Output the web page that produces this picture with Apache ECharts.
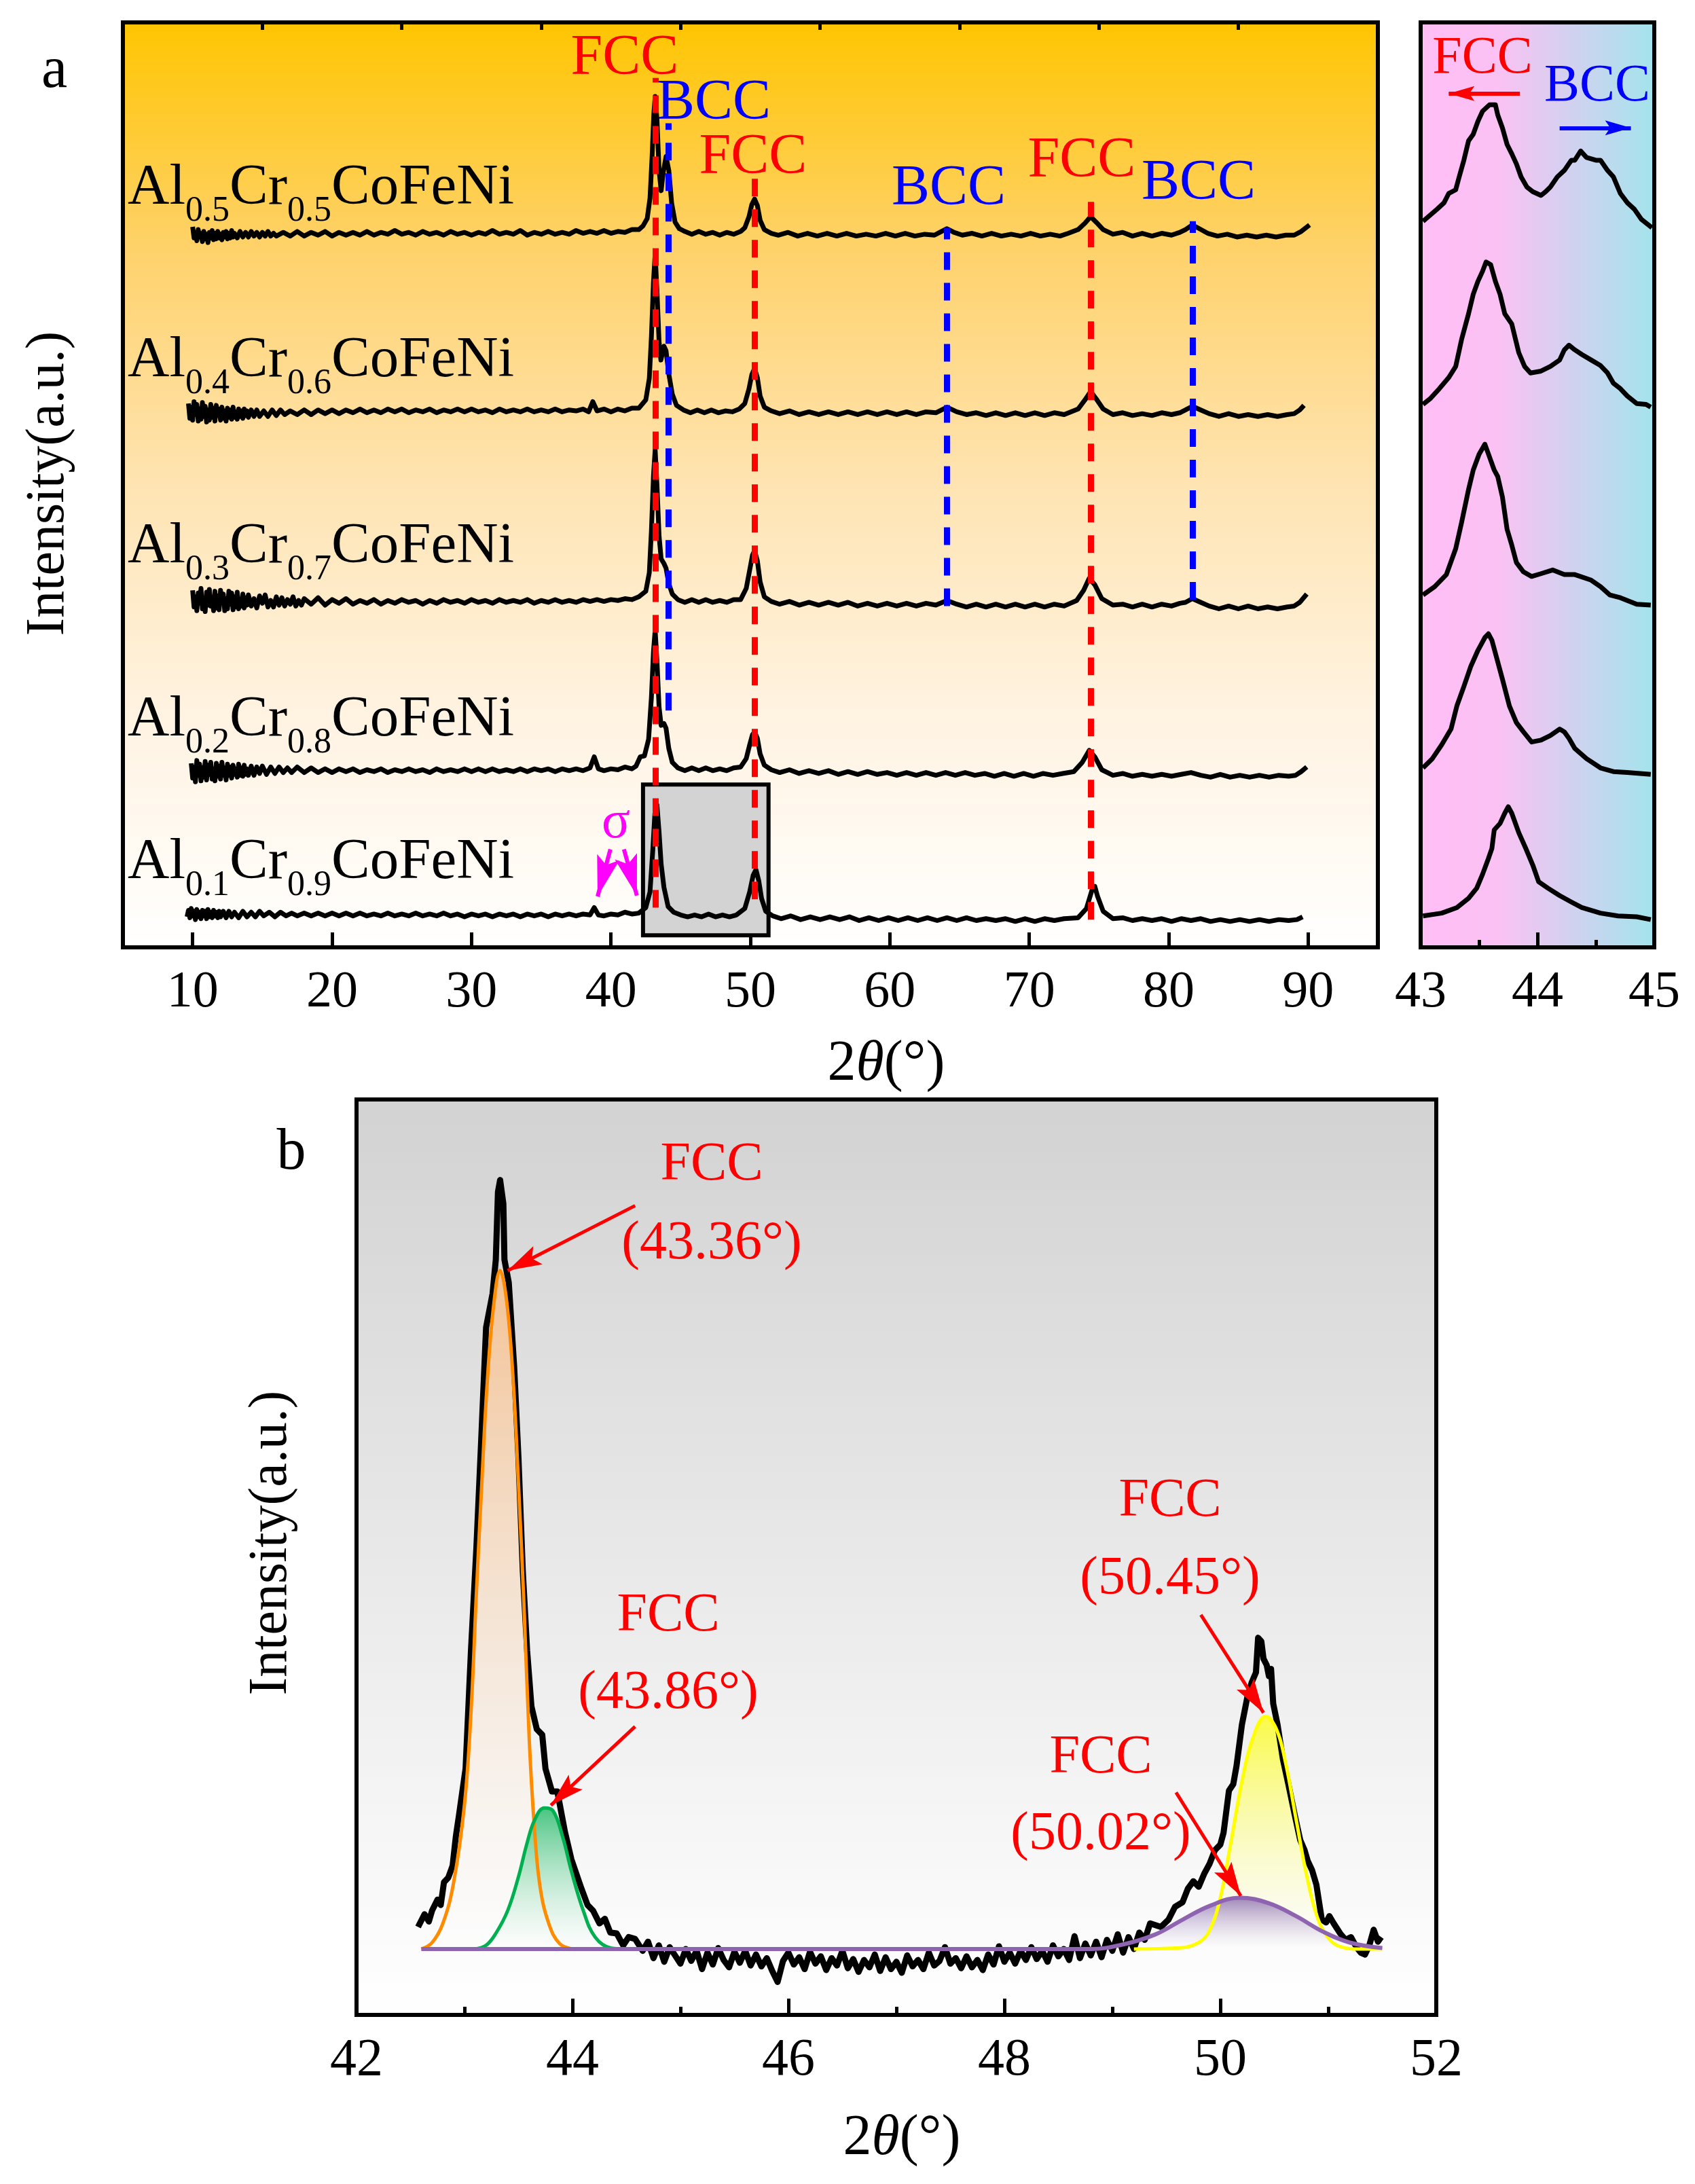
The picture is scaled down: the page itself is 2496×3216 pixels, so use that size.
<!DOCTYPE html>
<html>
<head>
<meta charset="utf-8">
<title>XRD Al-Cr-CoFeNi</title>
<script src="https://cdn.jsdelivr.net/npm/echarts@6/dist/echarts.min.js"></script>
<style>
html, body { margin: 0; padding: 0; background: #fff; }
#chart { width: 2496px; height: 3216px; }
</style>
</head>
<body>
<div id="chart"></div>
<script>
// tick labels
var aTicks = [10, 20, 30, 40, 50, 60, 70, 80, 90];
var aMinor = [15, 25, 35, 45, 55, 65, 75, 85];

// sample names (main text / subscript pieces)
var samples = [
  ['Al', '0.5', 'Cr', '0.5', 'CoFeNi'],
  ['Al', '0.4', 'Cr', '0.6', 'CoFeNi'],
  ['Al', '0.3', 'Cr', '0.7', 'CoFeNi'],
  ['Al', '0.2', 'Cr', '0.8', 'CoFeNi'],
  ['Al', '0.1', 'Cr', '0.9', 'CoFeNi']
];

// panel a : full patterns, 2theta / offset intensity
var A5 = [[10.0,77.9],[10.1,76.7],[10.2,77.3],[10.3,76.4],[10.4,77.6],[10.5,76.8],[10.6,77.2],[10.7,76.3],[10.8,77.4],[10.9,76.6],[11.0,77.1],[11.1,76.2],[11.2,77.3],[11.3,76.7],[11.4,77.5],[11.5,76.5],[11.6,77.2],[11.7,76.6],[11.8,77.4],[11.9,76.7],[12.0,77.1],[12.1,76.5],[12.2,77.3],[12.3,76.8],[12.4,77.4],[12.5,76.6],[12.6,77.2],[12.7,76.7],[12.8,77.5],[12.9,76.8],[13.0,77.2],[13.2,76.7],[13.4,77.4],[13.6,76.8],[13.8,77.3],[14.0,76.8],[14.2,77.4],[14.4,76.9],[14.6,77.3],[14.8,76.8],[15.0,77.3],[15.2,76.9],[15.4,77.4],[15.6,76.9],[15.8,77.2],[16.0,76.9],[16.5,77.3],[17.0,76.9],[17.5,77.4],[18.0,76.9],[18.5,77.3],[19.0,77.0],[19.5,77.4],[20.0,76.9],[20.5,77.3],[21,77.0],[21.5,77.3],[22,77.0],[22.5,77.4],[23,77.0],[23.5,77.3],[24,77.1],[24.5,77.5],[25,77.1],[25.5,77.3],[26,77.0],[26.5,77.4],[27,77.1],[27.5,77.3],[28,77.0],[28.5,77.4],[29,77.1],[29.5,77.3],[30,77.0],[30.5,77.3],[31,77.1],[31.5,77.5],[32,77.1],[32.5,77.3],[33,77.1],[33.5,77.5],[34,77.0],[34.5,77.3],[35,77.1],[35.5,77.4],[36,77.1],[36.5,77.3],[37,77.1],[37.5,77.5],[38,77.2],[38.5,77.4],[39,77.2],[39.5,77.5],[40,77.2],[40.5,77.4],[41,77.3],[41.5,77.6],[42.0,77.6],
  [42.3,78.0],[42.6,78.8],[42.8,81.0],[42.95,85.5],[43.07,90.0],[43.17,92.0],[43.3,89.5],[43.45,84.0],[43.6,81.8],[43.75,83.8],[43.95,85.5],[44.15,84.0],[44.35,80.5],[44.6,78.4],[44.9,77.7],[45.3,77.4],[45.8,77.1],[46.3,77.4],[46.8,77.1],[47.3,77.3],[47.8,77.0],[48.3,77.3],[48.8,77.1],[49.3,77.4],
  [49.6,77.8],[49.9,79.0],[50.1,80.3],[50.3,80.9],[50.5,80.2],[50.7,78.6],[51.0,77.6],[51.5,77.2],[52,77.0],[52.7,77.3],[53.4,76.9],[54.1,77.2],[54.8,76.9],[55.5,77.2],[56.2,76.9],[56.9,77.2],[57.6,76.9],[58.3,77.1],[59,76.9],[59.7,77.2],[60.4,76.9],[61.1,77.2],[61.8,76.9],[62.5,77.1],[63.2,77.0],[63.7,77.4],[64.1,77.7],[64.6,77.3],[65.2,77.0],[65.9,77.2],[66.6,76.9],[67.3,77.2],[68,76.9],[68.7,77.1],[69.4,76.9],[70.1,77.2],[70.8,76.9],[71.5,77.1],[72.2,76.9],[72.8,77.2],
  [73.5,77.6],[74.0,78.3],[74.4,79.0],[74.8,78.4],[75.3,77.6],[76,77.1],[76.7,77.3],[77.4,76.9],[78.1,77.2],[78.8,76.9],[79.5,77.2],[80.2,77.0],[80.8,77.3],[81.2,77.6],[81.7,78.1],[82.2,77.7],[82.8,77.2],[83.5,76.9],[84.2,77.1],[84.9,76.8],[85.6,77.0],[86.3,76.8],[87,77.0],[87.7,76.8],[88.4,77.0],[89.0,77.0],[89.5,77.4],[90.1,78.1]];

var A4 = [[9.7,58.8],[9.8,57.2],[9.9,58.4],[10.0,57.0],[10.1,59.0],[10.2,57.6],[10.3,58.7],[10.4,56.9],[10.5,58.2],[10.6,57.1],[10.7,58.9],[10.8,57.4],[10.9,58.5],[11.0,56.8],[11.1,58.1],[11.2,57.0],[11.3,58.7],[11.4,57.3],[11.5,58.3],[11.6,56.9],[11.7,58.6],[11.8,57.5],[11.9,58.2],[12.0,57.0],[12.1,58.4],[12.2,57.2],[12.3,58.0],[12.4,56.9],[12.5,58.3],[12.6,57.3],[12.7,58.1],[12.8,57.1],[12.9,58.4],[13.0,57.3],[13.1,57.9],[13.2,57.1],[13.3,58.2],[13.4,57.4],[13.5,58.0],[13.6,57.2],[13.7,58.2],[13.8,57.5],[13.9,58.0],[14.0,57.3],[14.2,58.1],[14.4,57.4],[14.6,58.1],[14.8,57.4],[15.1,58.0],[15.4,57.4],[15.7,58.1],[16.0,57.5],[16.3,58.1],[16.6,57.6],[17.0,58.0],[17.5,57.6],[18.0,58.1],[18.5,57.6],[19.0,58.1],[19.5,57.7],[20,58.1],[20.5,57.7],[21,58.1],[21.5,57.8],[22,58.2],[22.5,57.8],[23,58.1],[23.5,57.8],[24,58.2],[24.5,57.9],[25,58.2],[25.5,57.8],[26,58.1],[26.5,57.9],[27,58.2],[27.5,57.8],[28,58.1],[28.5,57.9],[29,58.2],[29.5,57.9],[30,58.2],[30.5,57.9],[31,58.1],[31.5,57.8],[32,58.2],[32.5,57.9],[33,58.1],[33.5,57.9],[34,58.2],[34.5,57.9],[35,58.1],[35.5,57.9],[36,58.2],[36.5,57.9],[37,58.1],[37.5,58.0],[38,58.2],[38.4,57.9],[38.7,59.0],[39.0,58.0],[39.5,58.2],[40,57.9],[40.5,58.2],[41,58.0],[41.5,58.3],[42,58.3],
  [42.5,59.2],[42.75,61.5],[42.9,66],[43.05,72],[43.17,75.0],[43.3,71],[43.45,65.5],[43.58,63.5],[43.8,65.0],[43.95,64.5],[44.15,62.0],[44.4,59.8],[44.7,58.6],[45.2,58.1],[45.7,57.8],[46.2,58.1],[46.7,57.8],[47.2,58.1],[47.7,57.8],[48.2,58.0],[48.7,57.9],[49.2,58.2],
  [49.6,58.8],[49.9,60.4],[50.1,61.9],[50.3,62.6],[50.5,61.6],[50.7,59.6],[51.0,58.4],[51.5,58.0],[52.1,57.7],[52.8,58.0],[53.5,57.6],[54.2,57.9],[54.9,57.6],[55.6,57.9],[56.3,57.6],[57,57.9],[57.7,57.6],[58.4,57.9],[59.1,57.6],[59.8,57.9],[60.5,57.6],[61.2,57.9],[61.9,57.6],[62.6,57.9],[63.3,57.8],[64.1,58.4],[64.8,57.9],[65.5,57.6],[66.2,57.8],[66.9,57.5],[67.6,57.8],[68.3,57.5],[69,57.8],[69.7,57.5],[70.4,57.8],[71.1,57.5],[71.8,57.8],[72.5,57.6],
  [73.5,58.2],[74.0,59.2],[74.4,60.1],[74.8,59.3],[75.3,58.2],[76,57.6],[76.7,57.8],[77.4,57.5],[78.1,57.7],[78.8,57.5],[79.5,57.8],[80.2,57.6],[80.8,57.8],[81.2,58.1],[81.7,58.5],[82.3,58.1],[82.9,57.7],[83.6,57.4],[84.3,57.7],[85,57.4],[85.7,57.6],[86.4,57.4],[87.1,57.6],[87.8,57.4],[88.5,57.6],[89.0,57.7],[89.4,58.1],[89.7,58.6]];

var A3 = [[10.0,38.6],[10.1,36.8],[10.2,37.9],[10.3,36.4],[10.4,38.3],[10.5,37.2],[10.6,38.8],[10.7,36.6],[10.8,37.6],[10.9,36.3],[11.0,38.4],[11.1,37.0],[11.2,38.7],[11.3,36.9],[11.4,37.8],[11.5,36.4],[11.6,38.5],[11.7,36.7],[11.8,38.0],[11.9,36.5],[12.0,38.6],[12.1,37.3],[12.2,38.2],[12.3,36.4],[12.4,37.7],[12.5,36.6],[12.6,38.5],[12.7,37.1],[12.8,38.3],[12.9,36.5],[13.0,37.9],[13.1,36.8],[13.2,38.4],[13.3,36.6],[13.4,37.5],[13.5,36.9],[13.6,38.2],[13.7,36.7],[13.8,37.8],[13.9,37.0],[14.0,38.1],[14.2,36.9],[14.4,37.7],[14.6,36.7],[14.8,38.0],[15.0,37.2],[15.2,38.1],[15.4,36.8],[15.6,37.5],[15.8,36.8],[16.0,37.9],[16.2,37.0],[16.4,37.8],[16.6,36.9],[16.8,37.6],[17.0,37.1],[17.2,37.9],[17.4,36.9],[17.6,37.5],[17.8,37.0],[18.0,37.7],[18.5,37.1],[19.0,37.8],[19.5,37.0],[20.0,37.6],[20.5,37.2],[21.0,37.7],[21.5,37.1],[22.0,37.5],[22.5,37.2],[23.0,37.6],[23.5,37.1],[24.0,37.5],[24.5,37.2],[25.0,37.6],[25.5,37.3],[26,37.5],[26.5,37.1],[27,37.5],[27.5,37.2],[28,37.6],[28.5,37.3],[29,37.5],[29.5,37.2],[30,37.6],[30.5,37.3],[31,37.5],[31.5,37.2],[32,37.6],[32.5,37.3],[33,37.5],[33.5,37.3],[34,37.6],[34.5,37.2],[35,37.5],[35.5,37.3],[36,37.6],[36.5,37.3],[37,37.5],[37.5,37.3],[38,37.6],[38.5,37.4],[39,37.6],[39.5,37.4],[40,37.6],[40.5,37.5],[41,37.7],[41.5,37.6],[42,37.9],
  [42.5,38.5],[42.75,40.5],[42.9,45],[43.05,51],[43.17,53.8],[43.3,50],[43.45,44.5],[43.6,42.0],[43.8,41.5],[43.95,41.0],[44.15,39.3],[44.4,38.2],[44.8,37.6],[45.3,37.3],[45.8,37.6],[46.3,37.3],[46.8,37.6],[47.3,37.3],[47.8,37.5],[48.3,37.3],[48.8,37.6],[49.3,37.6],
  [49.7,38.8],[49.95,40.8],[50.15,42.4],[50.3,42.9],[50.5,41.8],[50.7,39.5],[51.0,37.9],[51.5,37.4],[52.1,37.1],[52.8,37.4],[53.5,37.0],[54.2,37.3],[54.9,37.0],[55.6,37.3],[56.3,37.0],[57,37.3],[57.7,36.9],[58.4,37.2],[59.1,36.9],[59.8,37.2],[60.5,36.9],[61.2,37.2],[61.9,36.9],[62.6,37.2],[63.3,37.0],[64.1,37.5],[64.8,37.1],[65.5,36.8],[66.2,37.1],[66.9,36.8],[67.6,37.1],[68.3,36.8],[69,37.1],[69.7,36.8],[70.4,37.1],[71.1,36.8],[71.8,37.1],[72.5,36.9],
  [73.4,37.5],[73.9,38.6],[74.3,39.9],[74.7,39.2],[75.2,37.7],[76,37.0],[76.7,37.1],[77.4,36.8],[78.1,37.1],[78.8,36.8],[79.5,37.1],[80.2,36.9],[80.8,37.2],[81.2,37.3],[81.7,37.7],[82.3,37.3],[82.9,36.9],[83.6,36.6],[84.3,36.9],[85,36.6],[85.7,36.9],[86.4,36.6],[87.1,36.8],[87.8,36.6],[88.5,36.8],[89.0,36.9],[89.4,37.3],[89.9,38.2]];

var A2 = [[9.9,19.9],[10.0,18.3],[10.1,19.5],[10.2,17.9],[10.3,20.2],[10.4,18.6],[10.5,19.8],[10.6,18.0],[10.7,19.4],[10.8,18.4],[10.9,20.1],[11.0,18.1],[11.1,19.7],[11.2,18.7],[11.3,20.0],[11.4,18.2],[11.5,19.3],[11.6,18.0],[11.7,19.9],[11.8,18.5],[11.9,19.6],[12.0,18.2],[12.1,20.0],[12.2,18.6],[12.3,19.4],[12.4,18.1],[12.5,19.8],[12.6,18.6],[12.7,19.5],[12.8,18.3],[12.9,19.7],[13.0,18.7],[13.1,19.3],[13.2,18.4],[13.3,19.8],[13.4,18.6],[13.5,19.4],[13.6,18.5],[13.7,19.7],[13.8,18.7],[13.9,19.3],[14.0,18.6],[14.2,19.6],[14.4,18.6],[14.6,19.5],[14.8,18.8],[15.0,19.6],[15.3,18.7],[15.6,19.5],[15.9,18.8],[16.2,19.5],[16.5,18.9],[16.8,19.4],[17.1,18.9],[17.5,19.5],[18,18.9],[18.5,19.4],[19,18.9],[19.5,19.3],[20,18.9],[20.5,19.3],[21,19.0],[21.5,19.3],[22,18.9],[22.5,19.2],[23,19.0],[23.5,19.3],[24,18.9],[24.5,19.2],[25,19.0],[25.5,19.3],[26,19.0],[26.5,19.2],[27,18.9],[27.5,19.3],[28,19.0],[28.5,19.2],[29,19.0],[29.5,19.3],[30,19.0],[30.5,19.3],[31,19.0],[31.5,19.3],[32,19.0],[32.5,19.2],[33,19.0],[33.5,19.3],[34,19.0],[34.5,19.3],[35,19.1],[35.5,19.3],[36,19.0],[36.5,19.3],[37,19.1],[37.5,19.3],[38,19.1],[38.5,19.4],[38.8,20.6],[39.1,19.3],[39.5,19.1],[40,19.3],[40.5,19.2],[41,19.5],[41.5,19.3],[41.8,19.6],
  [42.1,20.6],[42.4,20.7],[42.7,22.5],[42.9,27],[43.05,32],[43.17,34.3],[43.3,31],[43.45,26],[43.6,24.0],[43.8,24.2],[43.95,23.7],[44.15,21.5],[44.4,20.0],[44.8,19.4],[45.3,19.1],[45.8,19.4],[46.3,19.1],[46.8,19.4],[47.3,19.1],[47.8,19.3],[48.3,19.1],[48.8,19.4],[49.3,19.5],
  [49.7,20.4],[49.95,21.9],[50.15,23.0],[50.3,23.3],[50.5,22.6],[50.7,20.9],[51.0,19.7],[51.5,19.2],[52.1,18.9],[52.8,19.2],[53.5,18.8],[54.2,19.1],[54.9,18.8],[55.6,19.1],[56.3,18.7],[57,19.0],[57.7,18.7],[58.4,19.0],[59.1,18.7],[59.8,18.9],[60.5,18.6],[61.2,18.9],[61.9,18.6],[62.6,18.9],[63.3,18.6],[64,18.9],[64.7,18.6],[65.4,18.9],[66.1,18.6],[66.8,18.8],[67.5,18.5],[68.2,18.8],[68.9,18.5],[69.6,18.8],[70.3,18.5],[71,18.8],[71.7,18.6],[72.4,18.8],
  [73.2,19.0],[73.8,20.0],[74.3,21.3],[74.7,20.6],[75.2,19.2],[76,18.6],[76.7,18.8],[77.4,18.5],[78.1,18.7],[78.8,18.5],[79.5,18.7],[80.2,18.5],[80.9,18.7],[81.6,18.9],[82.3,18.6],[83,18.4],[83.7,18.7],[84.4,18.4],[85.1,18.6],[85.8,18.4],[86.5,18.6],[87.2,18.4],[87.9,18.6],[88.6,18.5],[89.1,18.6],[89.5,19.0],[89.9,19.5]];

var A1 = [[9.6,3.3],[9.7,4.0],[9.8,3.2],[9.9,4.2],[10.0,3.4],[10.1,3.9],[10.2,3.0],[10.3,4.1],[10.4,3.3],[10.5,3.8],[10.6,3.1],[10.7,4.0],[10.8,3.4],[10.9,3.9],[11.0,3.1],[11.1,4.1],[11.2,3.3],[11.3,3.8],[11.4,3.2],[11.5,4.0],[11.6,3.4],[11.7,3.8],[11.8,3.2],[11.9,3.9],[12.0,3.3],[12.2,3.9],[12.4,3.2],[12.6,3.9],[12.8,3.3],[13.0,3.8],[13.3,3.2],[13.6,3.9],[13.9,3.3],[14.2,3.8],[14.5,3.3],[14.8,3.9],[15.1,3.4],[15.5,3.8],[15.9,3.3],[16.3,3.8],[16.7,3.4],[17.1,3.7],[17.5,3.4],[18,3.7],[18.5,3.4],[19,3.7],[19.5,3.4],[20,3.7],[20.5,3.4],[21,3.7],[21.5,3.4],[22,3.7],[22.5,3.4],[23,3.6],[23.5,3.4],[24,3.7],[24.5,3.4],[25,3.6],[25.5,3.4],[26,3.7],[26.5,3.4],[27,3.6],[27.5,3.4],[28,3.7],[28.5,3.4],[29,3.6],[29.5,3.3],[30,3.6],[30.5,3.4],[31,3.6],[31.5,3.3],[32,3.6],[32.5,3.4],[33,3.6],[33.5,3.3],[34,3.6],[34.5,3.4],[35,3.6],[35.5,3.3],[36,3.6],[36.5,3.4],[37,3.6],[37.5,3.4],[38,3.6],[38.5,3.5],[38.8,4.3],[39.1,3.5],[39.5,3.4],[40,3.6],[40.5,3.5],[41,3.8],[41.5,3.6],[42,3.7],
  [42.5,4.3],[42.8,6.0],[43.0,10.5],[43.15,14.5],[43.3,15.4],[43.45,12.5],[43.6,9.0],[43.8,6.5],[44.1,4.4],[44.5,3.8],[45,3.5],[45.5,3.3],[46,3.5],[46.5,3.3],[47,3.6],[47.5,3.3],[48,3.5],[48.5,3.3],[49,3.5],
  [49.6,4.2],[49.95,6.0],[50.2,7.8],[50.4,8.4],[50.6,7.2],[50.8,5.3],[51.1,3.9],[51.6,3.4],[52.2,3.1],[52.9,3.4],[53.6,3.0],[54.3,3.3],[55,3.0],[55.7,3.3],[56.4,3.0],[57.1,3.3],[57.8,2.9],[58.5,3.2],[59.2,2.9],[59.9,3.2],[60.6,2.9],[61.3,3.2],[62,2.9],[62.7,3.2],[63.4,2.9],[64.1,3.2],[64.8,2.9],[65.5,3.2],[66.2,2.9],[66.9,3.1],[67.6,2.9],[68.3,3.1],[69,2.8],[69.7,3.1],[70.4,2.8],[71.1,3.1],[71.8,2.9],[72.5,3.1],
  [73.5,3.2],[74.1,4.2],[74.5,6.2],[74.7,6.6],[74.9,5.5],[75.3,3.9],[76,3.1],[76.7,3.2],[77.4,2.9],[78.1,3.1],[78.8,2.9],[79.5,3.1],[80.2,2.8],[80.9,3.1],[81.6,2.9],[82.3,3.1],[83,2.8],[83.7,3.0],[84.4,2.8],[85.1,3.0],[85.8,2.8],[86.5,3.0],[87.2,2.8],[87.9,3.0],[88.6,2.9],[89.2,3.0],[89.6,3.3]];

// phase reference lines (2theta, from, to)
var fccLines = [[43.2, 4.3, 94.0], [50.3, 5.2, 84.4], [74.4, 3.0, 80.6]];
var bccLines = [[44.1, 25.6, 89.1], [64.1, 36.9, 77.8], [81.7, 37.6, 78.5]];

// inset : 43-45 degree detail
var I5 = [[43.02,78.5],[43.14,79.8],[43.20,80.5],[43.24,81.5],[43.30,81.9],[43.33,83.3],[43.37,85.1],[43.41,87.2],[43.45,87.9],[43.49,89.3],[43.53,90.4],[43.59,91.1],[43.64,91.1],[43.66,90.0],[43.70,88.6],[43.74,86.8],[43.78,85.8],[43.82,84.7],[43.86,83.3],[43.91,82.2],[43.96,81.7],[44.03,81.3],[44.07,81.7],[44.11,82.2],[44.17,83.3],[44.23,84.0],[44.29,85.1],[44.32,85.1],[44.37,86.1],[44.42,85.4],[44.50,85.1],[44.54,85.1],[44.60,84.0],[44.65,83.3],[44.71,81.5],[44.77,80.5],[44.83,79.8],[44.89,78.7],[44.98,77.8]];
var I4 = [[43.02,58.7],[43.08,59.3],[43.16,60.4],[43.24,61.6],[43.30,62.8],[43.35,65.7],[43.41,68.5],[43.45,70.6],[43.49,72.0],[43.53,73.1],[43.56,74.1],[43.60,73.8],[43.64,72.0],[43.68,70.6],[43.72,68.5],[43.78,67.4],[43.84,64.3],[43.89,62.8],[43.94,62.1],[44.03,62.3],[44.11,62.8],[44.19,63.5],[44.23,64.6],[44.27,65.1],[44.32,64.6],[44.38,64.1],[44.46,63.5],[44.54,62.9],[44.60,62.1],[44.65,61.0],[44.71,60.4],[44.77,59.6],[44.85,58.8],[44.93,58.7],[44.97,58.4]];
var I3 = [[43.02,38.1],[43.12,39.0],[43.22,40.3],[43.30,43.1],[43.35,45.9],[43.41,49.5],[43.45,51.6],[43.50,53.3],[43.55,54.4],[43.59,53.0],[43.63,51.6],[43.66,50.9],[43.70,48.7],[43.74,45.2],[43.78,43.5],[43.82,41.6],[43.88,40.6],[43.95,40.1],[44.03,40.4],[44.13,40.8],[44.23,40.3],[44.32,40.3],[44.46,39.7],[44.54,39.0],[44.62,38.1],[44.71,37.8],[44.85,37.1],[44.97,37.0]];
var I2 = [[43.02,19.4],[43.10,20.4],[43.18,21.9],[43.26,23.6],[43.31,26.1],[43.37,28.2],[43.43,30.4],[43.49,32.1],[43.55,33.5],[43.58,33.9],[43.61,33.2],[43.64,31.8],[43.70,29.0],[43.76,26.1],[43.82,24.3],[43.88,23.3],[43.95,22.2],[44.03,22.4],[44.11,22.9],[44.19,23.6],[44.23,23.3],[44.27,22.6],[44.32,21.5],[44.42,20.4],[44.54,19.4],[44.65,19.0],[44.77,18.9],[44.97,18.7]];
var I1 = [[43.02,3.4],[43.18,3.7],[43.31,4.3],[43.41,5.3],[43.48,6.4],[43.53,7.9],[43.58,9.6],[43.61,10.7],[43.63,12.7],[43.68,13.4],[43.72,14.5],[43.75,15.2],[43.78,14.5],[43.84,12.4],[43.90,10.7],[43.96,8.9],[44.01,7.1],[44.09,6.4],[44.19,5.6],[44.29,4.9],[44.38,4.3],[44.54,3.7],[44.69,3.4],[44.85,3.3],[44.97,3.0]];

// panel b : Al0.1Cr0.9CoFeNi 42-52 degree with peak fits
var bBase = 7.2;
var B = [[42.57,9.6],[42.63,11.0],[42.67,10.2],[42.70,11.4],[42.75,12.6],[42.78,12.0],[42.81,14.5],[42.85,15.0],[42.89,16.3],[42.92,19.5],[42.95,21.9],[43.01,26.9],[43.06,39.8],[43.11,51.0],[43.15,61.5],[43.20,75.1],[43.26,78.8],[43.29,82.5],[43.31,89.9],[43.33,91.2],[43.36,88.6],[43.37,82.5],[43.41,80.0],[43.46,70.8],[43.50,60.8],[43.54,48.5],[43.58,39.8],[43.62,33.7],[43.67,31.2],[43.72,30.6],[43.75,26.9],[43.81,24.4],[43.86,24.4],[43.93,20.0],[43.99,17.0],[44.08,13.9],[44.14,12.0],[44.19,11.4],[44.25,10.0],[44.30,10.5],[44.35,9.0],[44.41,8.9],[44.47,7.6],[44.52,8.5],[44.58,8.3],
  [44.65,7.0],[44.7,8.0],[44.75,6.2],[44.8,7.6],[44.85,5.8],[44.9,7.4],[44.95,6.5],[45.0,5.6],[45.05,7.2],[45.1,5.9],[45.15,7.0],[45.2,5.0],[45.25,6.8],[45.3,5.5],[45.35,7.3],[45.4,6.0],[45.45,5.2],[45.5,6.9],[45.55,5.7],[45.6,7.0],[45.65,5.4],[45.7,6.6],[45.75,5.3],[45.8,6.2],[45.85,4.8],[45.9,3.6],[45.95,5.9],[46.0,6.8],[46.05,5.5],[46.1,6.3],[46.15,5.0],[46.2,6.9],[46.25,5.6],[46.3,6.4],[46.35,4.9],[46.4,6.2],[46.45,5.4],[46.5,7.0],[46.55,5.1],[46.6,6.1],[46.65,4.7],[46.7,6.0],[46.75,5.2],[46.8,6.6],[46.85,4.8],[46.9,6.3],[46.95,5.0],[47.0,5.8],[47.05,4.6],[47.1,6.5],[47.15,5.3],[47.2,6.0],[47.25,5.0],[47.3,6.8],[47.35,5.4],[47.4,5.9],[47.45,7.4],[47.5,5.6],[47.55,6.2],[47.6,5.1],[47.65,6.4],[47.7,5.2],[47.75,6.0],[47.8,4.9],[47.85,6.6],[47.9,5.5],[47.95,7.5],[48.0,5.8],[48.05,6.8],[48.1,5.6],[48.15,7.0],[48.2,6.0],[48.25,7.4],[48.3,6.1],[48.35,7.0],[48.4,5.8],[48.45,7.6],[48.5,6.4],[48.55,7.2],[48.6,6.0],[48.65,8.6],[48.7,6.2],[48.75,7.8],[48.8,6.5],[48.85,8.0],[48.9,6.3],[48.95,8.2],[49.0,7.0],[49.05,8.8],[49.1,6.8],[49.15,8.5],[49.2,7.2],[49.25,9.0],[49.3,8.2],
  [49.35,10.0],[49.45,9.6],[49.52,10.4],[49.58,11.8],[49.65,12.3],[49.7,13.8],[49.75,14.6],[49.8,14.0],[49.85,15.4],[49.9,16.5],[49.95,18.0],[50.0,18.6],[50.03,19.9],[50.08,24.5],[50.12,25.2],[50.15,27.2],[50.2,31.7],[50.25,34.7],[50.29,36.3],[50.33,37.4],[50.35,41.2],[50.38,40.8],[50.4,38.9],[50.43,38.2],[50.45,37.0],[50.47,37.8],[50.49,34.0],[50.53,31.7],[50.58,27.9],[50.63,25.2],[50.69,21.8],[50.74,19.1],[50.78,18.0],[50.81,16.8],[50.85,15.8],[50.89,14.2],[50.94,10.4],[50.98,10.1],[51.01,10.8],[51.05,10.0],[51.11,8.9],[51.16,8.2],[51.21,8.5],[51.26,7.4],[51.3,6.8],[51.34,6.6],[51.38,7.6],[51.42,9.3],[51.46,8.0],[51.49,8.5]];
var fitOrange = [[42.6,7.2],[42.7,7.9],[42.8,10.0],[42.9,14.5],[43.0,23.0],[43.06,33],[43.11,46],[43.16,58],[43.21,69],[43.27,77.5],[43.33,81.3],[43.39,78],[43.45,69.5],[43.5,58],[43.55,45],[43.6,30],[43.65,20],[43.7,14],[43.78,10.0],[43.88,7.8],[44.0,7.2]];
var fitGreen = [[43.1,7.2],[43.2,7.6],[43.29,8.9],[43.4,11.4],[43.5,15.1],[43.58,18.8],[43.65,21.3],[43.74,22.6],[43.82,22.3],[43.91,19.4],[43.99,15.7],[44.1,11.4],[44.21,8.5],[44.36,7.3],[44.5,7.2]];
var fitYellow = [[49.2,7.2],[49.6,7.3],[49.8,7.9],[49.9,9.2],[50.0,12.8],[50.1,19.0],[50.2,25.5],[50.3,30.2],[50.42,32.6],[50.52,31.2],[50.6,27.8],[50.7,21.5],[50.8,15.2],[50.9,10.6],[51.0,8.4],[51.1,7.5],[51.3,7.2],[51.5,7.2]];
var fitPurple = [[42.6,7.2],[48.8,7.2],[49.1,7.7],[49.4,8.8],[49.65,10.4],[49.9,11.9],[50.18,12.8],[50.45,12.2],[50.7,10.8],[50.95,9.1],[51.2,7.9],[51.5,7.3]];

var F = 'Liberation Serif';
var RED = '#FF0000', BLUE = '#0000FF', MAG = '#FF00FF';
// arrow head, tip at the symbol centre so it lands on the target point
var HEAD = 'path://M0,-30L0,-30M0,0L10,30L0,24L-10,30Z';

function vgrad(stops) {
  return { type: 'linear', x: 0, y: 0, x2: 0, y2: 1, colorStops: stops };
}
function dashLine(l, c) {
  return [{ coord: [l[0], l[1]], symbol: 'none', lineStyle: { color: c, width: 9, type: [26, 19] } },
          { coord: [l[0], l[2]], symbol: 'none' }];
}
function arrowLine(x1, y1, x2, y2, c, w, size) {
  return [{ coord: [x1, y1], symbol: 'none', lineStyle: { color: c, width: w, type: 'solid' } },
          { coord: [x2, y2], symbol: HEAD, symbolSize: size }];
}
function curve(data, xi, yi, w, extra) {
  return Object.assign({
    type: 'line', xAxisIndex: xi, yAxisIndex: yi, data: data,
    showSymbol: false, symbol: 'none', smooth: false,
    lineStyle: { color: '#000', width: w, join: 'round' }, silent: true
  }, extra || {});
}
function fit(data, color, top, w) {
  return {
    type: 'line', xAxisIndex: 3, yAxisIndex: 2, data: data, z: 3,
    showSymbol: false, symbol: 'none', smooth: 0.4, silent: true,
    lineStyle: { color: color, width: w },
    areaStyle: { origin: bBase, color: vgrad([{ offset: 0, color: top }, { offset: 1, color: 'rgba(255,255,255,0.4)' }]) }
  };
}
function txt(text, x, y, size, color, extra) {
  return Object.assign({
    type: 'text', x: x, y: y, silent: true,
    style: { text: text, fill: color || '#000', fontSize: size, fontFamily: F, align: 'center', verticalAlign: 'middle' }
  }, extra || {});
}
function sampleText(s, x, baseY) {
  return {
    type: 'text', x: x, y: baseY - 29, silent: true,
    style: {
      text: '{n|' + s[0] + '}{s|' + s[1] + '}{n|' + s[2] + '}{s|' + s[3] + '}{n|' + s[4] + '}',
      fill: '#000', fontFamily: F, fontSize: 85, align: 'left', verticalAlign: 'middle',
      rich: {
        n: { fontSize: 85, fontFamily: F, lineHeight: 118, fill: '#000' },
        s: { fontSize: 52, fontFamily: F, lineHeight: 52, verticalAlign: 'bottom', fill: '#000' }
      }
    }
  };
}
var thetaRich = {
  n: { fontSize: 84, fontFamily: F, fill: '#000' },
  i: { fontSize: 84, fontFamily: F, fontStyle: 'italic', fill: '#000' }
};

var chart = echarts.init(document.getElementById('chart'));
var labelStyle = { color: '#000', fontFamily: F };

var option = {
  animation: false,
  backgroundColor: '#fff',
  grid: [
    { left: 181, top: 33, width: 1848, height: 1362, show: true, borderColor: '#000', borderWidth: 6,
      backgroundColor: vgrad([{ offset: 0, color: '#FFC500' }, { offset: 0.25, color: '#FED26C' }, { offset: 0.5, color: '#FEE4B2' }, { offset: 0.75, color: '#FFF3E2' }, { offset: 1, color: '#FFFFFF' }]) },
    { left: 2092, top: 33, width: 344, height: 1362, show: true, borderColor: '#000', borderWidth: 6,
      backgroundColor: { type: 'linear', x: 0, y: 0, x2: 1, y2: 0, colorStops: [{ offset: 0, color: '#FFBEF6' }, { offset: 0.33, color: '#FBC1F3' }, { offset: 1, color: '#A2E4EB' }] } },
    { left: 525, top: 1619, width: 1590, height: 1348, show: true, borderColor: '#000', borderWidth: 6,
      backgroundColor: vgrad([{ offset: 0, color: '#D2D2D2' }, { offset: 1, color: '#FFFFFF' }]) }
  ],
  xAxis: [
    { type: 'value', gridIndex: 0, min: 5, max: 95, axisLine: { show: false }, splitLine: { show: false },
      axisTick: { inside: true, length: 22, customValues: aTicks, lineStyle: { color: '#000', width: 5 } },
      axisLabel: Object.assign({ customValues: aTicks, margin: 29, fontSize: 76 }, labelStyle) },
    { type: 'value', gridIndex: 0, min: 5, max: 95, axisLine: { show: false }, splitLine: { show: false },
      axisTick: { inside: true, length: 11, customValues: aMinor, lineStyle: { color: '#000', width: 5 } },
      axisLabel: { show: false } },
    { type: 'value', gridIndex: 1, min: 43, max: 45, interval: 1, axisLine: { show: false }, splitLine: { show: false },
      axisTick: { inside: true, length: 22, lineStyle: { color: '#000', width: 5 } },
      minorTick: { show: true, splitNumber: 2, length: 11, lineStyle: { color: '#000', width: 5 } },
      axisLabel: Object.assign({ margin: 29, fontSize: 76 }, labelStyle) },
    { type: 'value', gridIndex: 2, min: 42, max: 52, interval: 2, axisLine: { show: false }, splitLine: { show: false },
      axisTick: { inside: true, length: 24, lineStyle: { color: '#000', width: 5 } },
      minorTick: { show: true, splitNumber: 2, length: 12, lineStyle: { color: '#000', width: 5 } },
      axisLabel: Object.assign({ margin: 29, fontSize: 78 }, labelStyle) }
  ],
  yAxis: [
    { type: 'value', gridIndex: 0, min: 0, max: 100, show: false },
    { type: 'value', gridIndex: 1, min: 0, max: 100, show: false },
    { type: 'value', gridIndex: 2, min: 0, max: 100, show: false }
  ],
  series: [
    curve(A5, 0, 0, 7),
    curve(A4, 0, 0, 7),
    curve(A3, 0, 0, 7),
    curve(A2, 0, 0, 7),
    curve(A1, 0, 0, 7, {
      markArea: {
        silent: true,
        itemStyle: { color: '#D3D3D3', borderColor: '#000', borderWidth: 6 },
        data: [[{ coord: [42.3, 1.3] }, { coord: [51.3, 17.6] }]]
      },
      markLine: {
        silent: true, symbol: 'none', label: { show: false },
        data: fccLines.map(function (l) { return dashLine(l, RED); })
          .concat(bccLines.map(function (l) { return dashLine(l, BLUE); }))
          .concat([arrowLine(39.96, 10.6, 39.04, 5.5, MAG, 6, [34, 120]), arrowLine(40.93, 10.6, 41.86, 5.6, MAG, 6, [34, 120])])
      }
    }),
    curve(I5, 2, 1, 7, {
      markLine: {
        silent: true, symbol: 'none', label: { show: false },
        data: [arrowLine(43.85, 92.3, 43.24, 92.3, RED, 6, [22, 76]), arrowLine(44.19, 88.6, 44.8, 88.6, BLUE, 6, [22, 76])]
      }
    }),
    curve(I4, 2, 1, 7),
    curve(I3, 2, 1, 7),
    curve(I2, 2, 1, 7),
    curve(I1, 2, 1, 7),
    curve(B, 3, 2, 9, {
      markLine: {
        silent: true, symbol: 'none', label: { show: false }, z: 6,
        data: [
          arrowLine(44.58, 88.4, 43.40, 81.3, RED, 5, [30, 100]),
          arrowLine(44.58, 31.5, 43.80, 22.9, RED, 5, [30, 100]),
          arrowLine(49.82, 43.7, 50.40, 33.0, RED, 5, [30, 100]),
          arrowLine(49.59, 24.3, 50.19, 13.0, RED, 5, [30, 100])
        ]
      }
    }),
    fit(fitOrange, '#FF8C00', 'rgba(255,185,120,1)', 5),
    fit(fitGreen, '#00B050', 'rgba(0,176,80,1)', 5),
    fit(fitYellow, '#FFFF00', 'rgba(255,255,0,1)', 5),
    fit(fitPurple, '#8E63B0', 'rgba(120,85,165,1)', 6)
  ],
  graphic: [
    txt('a', 80, 105, 86),
    txt('b', 429, 1698, 86),
    txt('Intensity(a.u.)', 72, 712, 80, '#000', { rotation: Math.PI / 2 }),
    txt('Intensity(a.u.)', 400, 2272, 80, '#000', { rotation: Math.PI / 2 }),
    { type: 'text', x: 1305, y: 1568, silent: true,
      style: { text: '{n|2}{i|θ}{n|(°)}', rich: thetaRich, fontSize: 84, fontFamily: F, align: 'center', verticalAlign: 'middle' } },
    { type: 'text', x: 1328, y: 3150, silent: true,
      style: { text: '{n|2}{i|θ}{n|(°)}', rich: thetaRich, fontSize: 84, fontFamily: F, align: 'center', verticalAlign: 'middle' } },
    txt('FCC', 920, 87, 84, RED),
    txt('BCC', 1051, 153, 84, BLUE),
    txt('FCC', 1109, 233, 84, RED),
    txt('BCC', 1397, 279, 84, BLUE),
    txt('FCC', 1593, 238, 84, RED),
    txt('BCC', 1765, 271, 84, BLUE),
    txt('σ', 907, 1213, 78, MAG),
    txt('FCC', 2183, 87, 78, RED),
    txt('BCC', 2352, 128, 78, BLUE),
    sampleText(samples[0], 188, 307),
    sampleText(samples[1], 188, 561),
    sampleText(samples[2], 188, 835),
    sampleText(samples[3], 188, 1090),
    sampleText(samples[4], 188, 1300),
    txt('FCC', 1048, 1716, 80, RED),
    txt('(43.36°)', 1048, 1832, 80, RED),
    txt('FCC', 984, 2380, 80, RED),
    txt('(43.86°)', 984, 2494, 80, RED),
    txt('FCC', 1723, 2211, 80, RED),
    txt('(50.45°)', 1723, 2326, 80, RED),
    txt('FCC', 1621, 2589, 80, RED),
    txt('(50.02°)', 1621, 2702, 80, RED)
  ]
};
chart.setOption(option);
</script>
</body>
</html>
